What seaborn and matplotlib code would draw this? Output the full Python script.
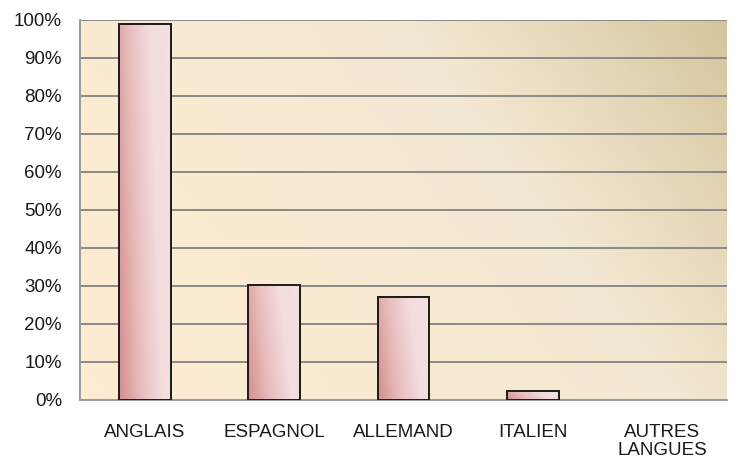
import numpy as np
import pandas as pd
import matplotlib
matplotlib.use("Agg")
import matplotlib.pyplot as plt
import seaborn as sns
from matplotlib.colors import LinearSegmentedColormap

categories = ["ANGLAIS", "ESPAGNOL", "ALLEMAND", "ITALIEN", "AUTRES\nLANGUES"]
values = [99, 30.3, 27.1, 2.4, 0]
yticks = [0, 10, 20, 30, 40, 50, 60, 70, 80, 90, 100]
ytick_labels = [f"{v}%" for v in yticks]

sns.set_theme(style="white")
plt.rcParams['font.family'] = ['Liberation Sans', 'DejaVu Sans']

df = pd.DataFrame({"langue": categories, "pct": values})

fig = plt.figure(figsize=(7.32, 4.59), dpi=100)
ax = fig.add_axes([80/732, 59/459, 647/732, 380/459])

sns.barplot(data=df, x="langue", y="pct", ax=ax, width=0.4,
            color="#eccaca", edgecolor="#1a1a1a", linewidth=1.4, zorder=3)

ax.set_ylim(0, 100)
ax.set_xlim(-0.5, len(categories) - 0.5)

# background gradient (lower-left cream to upper-right tan)
bg_cmap = LinearSegmentedColormap.from_list("bg", ["#fdecd2", "#f3e8d2", "#d5c49c"])
n = 256
xx, yy = np.meshgrid(np.linspace(0, 1, n), np.linspace(0, 1, n))
grad = (0.7 * xx + 0.3 * yy)
grad = np.clip(grad, 0, 1) ** 1.6
ax.imshow(grad, extent=[-0.5, len(categories) - 0.5, 0, 100], origin="lower",
          cmap=bg_cmap, aspect="auto", zorder=0)

# bar gradients
bar_cmap = LinearSegmentedColormap.from_list("bar", ["#d48e8e", "#e8bcbc", "#f2dcdc", "#f3e0e0"])
for p in ax.patches:
    x0, w = p.get_x(), p.get_width()
    h = p.get_height()
    if h <= 0:
        p.set_visible(False)
        continue
    bx, by = np.meshgrid(np.linspace(0, 1, 64), np.linspace(0, 1, 64))
    g = np.clip(bx * 0.8 + by * 0.2, 0, 1)
    im = ax.imshow(g, extent=[x0, x0 + w, 0, h], origin="lower", cmap=bar_cmap,
                   aspect="auto", zorder=3.5)
    im.set_clip_path(p)
    p.set_facecolor("none")
    p.set_zorder(4)

ax.set_ylim(0, 100)
ax.set_xlim(-0.5, len(categories) - 0.5)
ax.set_yticks(yticks)
ax.set_yticklabels(ytick_labels)
ax.yaxis.grid(True, color="#8a8a8a", linewidth=1.4, zorder=1)
ax.set_axisbelow(True)
for gl in ax.get_ygridlines():
    gl.set_zorder(1)

ax.set_xlabel("")
ax.set_ylabel("")
ax.tick_params(axis="y", length=0, pad=13, labelsize=13.5, labelcolor="#1a1a1a")
ax.tick_params(axis="x", length=0, pad=17, labelsize=13.5, labelcolor="#1a1a1a")
for lab in ax.get_xticklabels():
    lab.set_linespacing(1.1)

for side in ["top", "right"]:
    ax.spines[side].set_visible(False)
for side in ["left", "bottom"]:
    ax.spines[side].set_color("#9a9a9a")
    ax.spines[side].set_linewidth(1.4)

fig.savefig("out.png", dpi=100, facecolor="white")
